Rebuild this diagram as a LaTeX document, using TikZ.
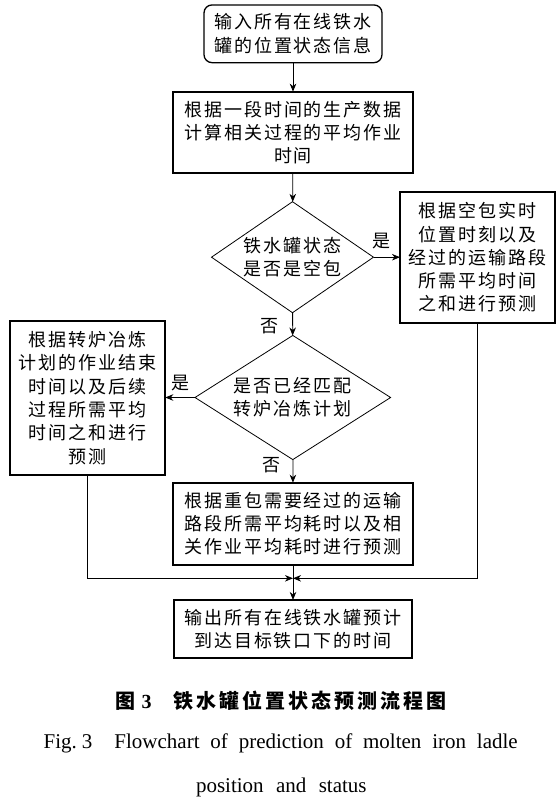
\documentclass[tikz,border=0pt]{standalone}
\usepackage{fontspec}
\setmainfont{Liberation Serif}
\newfontfamily\cjk[LetterSpace=11]{Noto Sans CJK SC}
\newfontfamily\cjkcap[LetterSpace=15]{Noto Sans CJK SC}
\usetikzlibrary{shapes.geometric,arrows.meta}
\begin{document}
\begin{tikzpicture}[x=1pt,y=-1pt,
  every node/.style={inner sep=0pt,outer sep=0pt},
  txt/.style={font=\cjk\fontsize{18}{23.3}\selectfont,align=center},
  procbox/.style={txt,draw,line width=1.8pt},
  startbox/.style={txt,draw,line width=1.3pt,rounded corners=8pt},
  decision/.style={txt,draw,diamond,aspect=1.4,line width=0.8pt},
  lab/.style={font=\cjk\fontsize{18}{18}\selectfont},
  conn/.style={line width=0.8pt,-{Stealth[length=8pt,width=6.5pt,inset=2.5pt]}},
  plain/.style={line width=0.8pt}]
\useasboundingbox (0,0) rectangle (558,798);

\node[startbox,minimum width=178pt,minimum height=57.7pt] (b1) at (293,33.8)
  {输入所有在线铁水\\罐的位置状态信息};
\node[procbox,minimum width=240pt,minimum height=81.7pt] (b2) at (293,132.5)
  {根据一段时间的生产数据\\计算相关过程的平均作业\\时间};
\node[decision,minimum width=162pt,minimum height=111pt] (d1) at (292.5,257.2)
  {铁水罐状态\\是否是空包};
\node[procbox,minimum width=155pt,minimum height=131.7pt] (rb) at (477.5,257.5)
  {根据空包实时\\位置时刻以及\\经过的运输路段\\所需平均时间\\之和进行预测};
\node[decision,minimum width=195.6pt,minimum height=111.7pt] (d2) at (292.8,397.5)
  {是否已经匹配\\转炉冶炼计划};
\node[procbox,minimum width=155.5pt,minimum height=154pt] (lb) at (87.5,398)
  {根据转炉冶炼\\计划的作业结束\\时间以及后续\\过程所需平均\\时间之和进行\\预测};
\node[procbox,minimum width=240pt,minimum height=82.3pt] (b3) at (293,523.8)
  {根据重包需要经过的运输\\路段所需平均耗时以及相\\关作业平均耗时进行预测};
\node[procbox,minimum width=238.6pt,minimum height=57.7pt] (b4) at (293,628.8)
  {输出所有在线铁水罐预计\\到达目标铁口下的时间};
\coordinate (m) at (293,578.3);

\node[lab] (y1) at (381,241) {是};
\node[lab] (n1) at (269,326.5) {否};
\node[lab] (y2) at (180.6,382.7) {是};
\node[lab] (n2) at (271.8,465) {否};

\draw[conn] (b1) -- (b2);
\draw[conn] (b2) -- (d1);
\draw[conn] (d1.east) -- (rb.west |- d1.east);
\draw[conn] (d1) -- (d2);
\draw[conn] (d2.west) -- (lb.east |- d2.west);
\draw[conn] (d2) -- (b3);
\draw[conn] (b3) -- (b4);
\draw[conn] (lb.south) -- (lb.south |- m) -- (m);
\draw[conn] (rb.south) -- (rb.south |- m) -- (m);

\node[font=\cjkcap\bfseries\fontsize{20}{20}\selectfont] (cap1) at (281,701)
  {图\hspace{6pt}{\rmfamily\bfseries 3}\hspace{22pt}铁水罐位置状态预测流程图};
\node[font=\fontsize{21}{21}\selectfont,anchor=base] (cap2) at (280.7,748)
  {\makebox[474pt][s]{Fig.\kern5pt 3\kern22pt Flowchart of prediction of molten iron ladle}};
\node[font=\fontsize{21}{21}\selectfont,anchor=base] (cap3) at (281.3,792)
  {\makebox[170.6pt][s]{position and status}};
\end{tikzpicture}
\end{document}
